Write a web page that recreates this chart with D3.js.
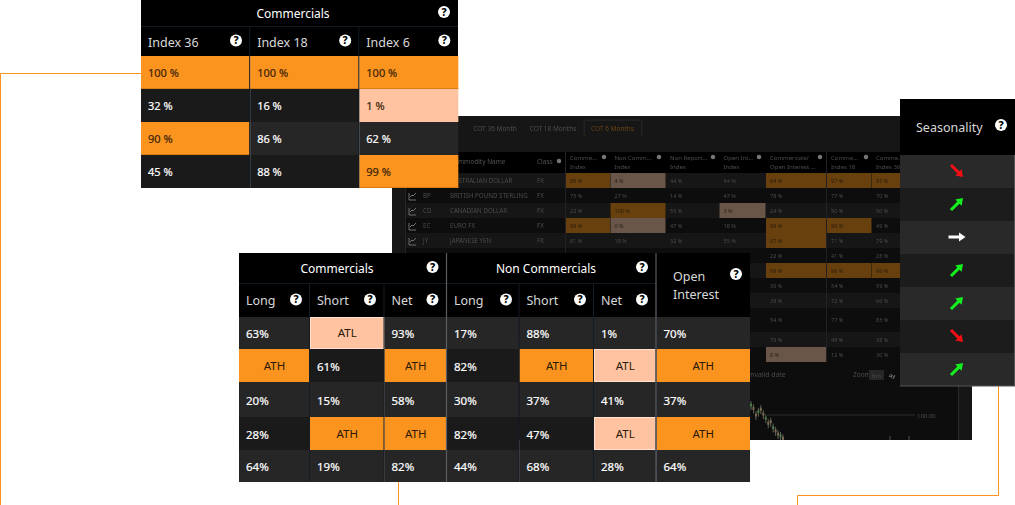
<!DOCTYPE html>
<html>
<head>
<meta charset="utf-8">
<script src="https://cdn.jsdelivr.net/npm/d3@7"></script>
<style>
html, body { margin: 0; padding: 0; background: #fff; }
svg { display: block; font-family: "Noto Sans", "Open Sans", sans-serif; }
.cell { stroke: currentColor; stroke-width: 0.2px; }
</style>
</head>
<body>
<svg id="chart" width="1015" height="505"></svg>
<script>
const ORANGE = "#fb931f", PEACH = "#ffc3a2";

// top left table
const indexHeaders = ["Index 36", "Index 18", "Index 6"];
const index36 = [100, 32, 90, 45];
const index18 = [100, 16, 86, 88];
const index6 = [100, 1, 62, 99];

// front table
const cotGroups = ["Commercials", "Non Commercials"];
const cotHeaders = ["Long", "Short", "Net", "Long", "Short", "Net", "Open Interest"];
const commLong = ["63%", "ATH", "20%", "28%", "64%"];
const commShort = ["ATL", "61%", "15%", "ATH", "19%"];
const commNet = ["93%", "ATH", "58%", "ATH", "82%"];
const nonLong = ["17%", "82%", "30%", "82%", "44%"];
const nonShort = ["88%", "ATH", "37%", "47%", "68%"];
const nonNet = ["1%", "ATL", "41%", "ATL", "28%"];
const openInterest = ["70%", "ATH", "37%", "ATH", "64%"];

// seasonality: -1 down, 0 flat, 1 up
const seasonality = [-1, 1, 0, 1, 1, -1, 1];

// back screenshot table
const backTabs = ["COT 36 Month", "COT 18 Months", "COT 6 Months"];
const backHeaders = [["Comme...", "Index"], ["Non Comm...", "Index"], ["Non Report...", "Index"], ["Open Int...", "Index"], ["Commercials/", "Open Interest ..."], ["Comme...", "Index 18"], ["Comme...", "Index 36"]];
const backCodes = ["", "BP", "CD", "EC", "JY"];
const backNames = ["AUSTRALIAN DOLLAR", "BRITISH POUND STERLING", "CANADIAN DOLLAR", "EURO FX", "JAPANESE YEN"];
const backColumns = [
  [95, 75, 22, 99, 81],
  [4, 27, 100, 0, 18],
  [44, 14, 55, 47, 32],
  [64, 47, 3, 18, 55],
  [94, 78, 24, 99, 97, 22, 99, 36, 39, 54, 79, 8],
  [97, 77, 50, 99, 71, 41, 96, 54, 72, 77, 49, 12],
  [97, 70, 50, 49, 79, 28, 96, 59, 66, 83, 38, 30]
];
// candle closes of the small chart behind everything
const candleCloses = [112, 108, 100, 104, 107, 101, 96, 90, 92, 85, 81, 77, 75, 72];

const svg = d3.select("#chart");

svg.append("defs").append("filter").attr("id", "soft")
  .append("feGaussianBlur").attr("stdDeviation", 0.5);

// orange connector lines
const connector = d3.line();
const connectors = [
  [[0.5, 505], [0.5, 73.5], [145, 73.5]],
  [[398.5, 505], [398.5, 480]],
  [[797.5, 505], [797.5, 495.5], [998.5, 495.5], [998.5, 380]]
];
svg.selectAll("path.connector").data(connectors).join("path")
  .attr("class", "connector")
  .attr("d", connector)
  .attr("fill", "none")
  .attr("stroke", ORANGE)
  .attr("stroke-width", 1);

function help(g, x, y, r) {
  g.append("circle").attr("cx", x).attr("cy", y).attr("r", r).attr("fill", "#fff");
  g.append("text").attr("x", x).attr("y", y + r * 0.62)
    .attr("text-anchor", "middle").attr("font-size", r * 1.75).attr("font-weight", 800)
    .attr("fill", "#000").text("?");
}

// ---- back screenshot
function drawBack() {
  const g = svg.append("g").attr("filter", "url(#soft)");
  g.append("rect").attr("x", 392).attr("y", 116).attr("width", 580).attr("height", 324).attr("fill", "#141414");
  g.append("rect").attr("x", 406).attr("y", 173).attr("width", 552).attr("height", 267).attr("fill", "#0a0a0a");
  g.append("rect").attr("x", 392).attr("y", 137).attr("width", 580).attr("height", 15).attr("fill", "#191919");
  g.append("rect").attr("x", 406).attr("y", 152).attr("width", 494).attr("height", 21).attr("fill", "#030303");
  g.append("line").attr("x1", 405.5).attr("x2", 405.5).attr("y1", 152).attr("y2", 440).attr("stroke", "#262626");

  // tabs
  g.append("path").attr("d", "M584 137V122q0-2 2-2H640q2 0 2 2V137").attr("fill", "#161616").attr("stroke", "#2a2a2a");
  const tabX = d3.scaleOrdinal().domain(backTabs).range([495, 553, 612.5]);
  g.selectAll("text.tab").data(backTabs).join("text").attr("class", "tab")
    .attr("x", d => tabX(d)).attr("y", 131).attr("text-anchor", "middle").attr("font-size", 6.5)
    .attr("fill", (d, i) => i === 2 ? "#6b4415" : "#505050").text(d => d);

  const rowEdge = d3.scaleLinear().domain(d3.range(13))
    .range([173, 188, 203, 218, 233, 248, 263, 278, 293, 308, 332, 347, 362]);
  const colEdges = [566, 610.5, 666, 719.5, 766, 827, 872, 918];
  const helpX = [604, 659, 713, 759, 820, 866];
  g.selectAll("rect.bandrow").data(d3.range(12).filter(i => i % 2 === 0)).join("rect").attr("class", "bandrow")
    .attr("x", 406).attr("y", d => rowEdge(d)).attr("width", 494).attr("height", d => rowEdge(d + 1) - rowEdge(d)).attr("fill", "#121212");

  // headers
  g.append("text").attr("x", 450).attr("y", 164).attr("font-size", 6.5).attr("fill", "#505050").text("Commodity Name");
  g.append("text").attr("x", 537).attr("y", 164).attr("font-size", 6.5).attr("fill", "#505050").text("Class");
  g.append("circle").attr("cx", 559).attr("cy", 161).attr("r", 2.2).attr("fill", "#777");
  backHeaders.forEach((h, i) => {
    h.forEach((t, j) => g.append("text").attr("x", colEdges[i] + 4).attr("y", 160 + j * 8.5)
      .attr("font-size", 6).attr("fill", "#4c4c4c").text(t));
    if (helpX[i]) g.append("circle").attr("cx", helpX[i]).attr("cy", 157).attr("r", 2.2).attr("fill", "#777");
  });

  // rows with names
  backNames.forEach((name, i) => {
    const y = (rowEdge(i) + rowEdge(i + 1)) / 2 + 2.5;
    g.append("text").attr("x", 450).attr("y", y).attr("font-size", 6.2).attr("fill", "#505050").text(name);
    g.append("text").attr("x", 537).attr("y", y).attr("font-size", 6.2).attr("fill", "#505050").text("FX");
    g.append("text").attr("x", 423).attr("y", y).attr("font-size", 6.2).attr("fill", "#505050").text(backCodes[i]);
    if (i > 0) g.append("path").attr("d", `M409 ${y + 2}h7M409 ${y + 2}v-7M410 ${y - 1}l2 -2l1 1l3 -3`).attr("fill", "none").attr("stroke", "#8a8a8a").attr("stroke-width", 0.8);
  });

  // value cells
  backColumns.forEach((col, c) => {
    const x0 = colEdges[c], w = colEdges[c + 1] - x0;
    col.forEach((v, r) => {
      const y = rowEdge(r), h = rowEdge(r + 1) - y, hi = v >= 90, lo = v <= 8;
      if (hi || lo) g.append("rect").attr("x", x0).attr("y", y).attr("width", w - 0.5).attr("height", h)
        .attr("fill", hi ? "#67400f" : "#6a5648");
      g.append("text").attr("x", x0 + 4).attr("y", y + h / 2 + 2.3).attr("font-size", 5.5)
        .attr("fill", hi ? "#2d1c06" : lo ? "#25201c" : "#505050").text(v + " %");
    });
  });
  [566, 827].forEach(e => g.append("line").attr("x1", e - 0.5).attr("x2", e - 0.5).attr("y1", 152).attr("y2", 362).attr("stroke", "#222"));

  // zoom bar + mini chart
  g.append("text").attr("x", 748).attr("y", 377).attr("font-size", 6.8).attr("fill", "#4f4f4f").text("Invalid date");
  g.append("text").attr("x", 853).attr("y", 377).attr("font-size", 6.5).attr("fill", "#4f4f4f").text("Zoom");
  g.append("rect").attr("x", 869).attr("y", 370).attr("width", 15).attr("height", 10).attr("fill", "#252525");
  g.append("text").attr("x", 876.5).attr("y", 377.5).attr("text-anchor", "middle").attr("font-size", 6).attr("fill", "#4f4f4f").text("6m");
  g.append("text").attr("x", 892).attr("y", 377.5).attr("text-anchor", "middle").attr("font-size", 6).attr("fill", "#999").text("4y");
  const yChart = d3.scaleLinear().domain([70, 100]).range([440, 415]);
  const xChart = d3.scaleLinear().domain([0, candleCloses.length - 1]).range([751, 783]);
  g.append("line").attr("x1", 767).attr("x2", 915).attr("y1", yChart(100)).attr("y2", yChart(100)).attr("stroke", "#2c2c2c");
  g.append("text").attr("x", 917).attr("y", yChart(100) + 2.5).attr("font-size", 6).attr("fill", "#555").text("100.00");
  g.append("line").attr("x1", 958.5).attr("x2", 958.5).attr("y1", 380).attr("y2", 440).attr("stroke", "#2c2c2c");
  g.selectAll("line.wick").data(candleCloses).join("line").attr("class", "wick")
    .attr("x1", (d, i) => xChart(i)).attr("x2", (d, i) => xChart(i))
    .attr("y1", d => yChart(d) - 4).attr("y2", d => Math.min(yChart(d) + 5, 440))
    .attr("stroke", "#8a8a78").attr("stroke-width", 0.7);
  g.selectAll("rect.candle").data(candleCloses).join("rect").attr("class", "candle")
    .attr("x", (d, i) => xChart(i) - 1).attr("width", 2)
    .attr("y", d => yChart(d) - 1.5).attr("height", 3)
    .attr("fill", (d, i) => i % 3 === 0 ? "#4b7a4a" : "#7a6a55");
  [890, 909].forEach(x => g.append("line").attr("x1", x).attr("x2", x).attr("y1", 436).attr("y2", 440).attr("stroke", "#777").attr("stroke-width", 0.7));
}

// ---- top left table
function drawIndexTable() {
  const g = svg.append("g");
  const x = d3.scaleBand().domain(indexHeaders).range([141, 468.5]);
  const ox = 141, w = 109;
  const helpOffset = [95, 95, 85];
  g.append("rect").attr("x", ox).attr("y", 0).attr("width", 317).attr("height", 56).attr("fill", "#000");
  g.append("line").attr("x1", ox).attr("x2", 458).attr("y1", 26.5).attr("y2", 26.5).attr("stroke", "#101820");
  g.append("text").attr("x", 293).attr("y", 18).attr("text-anchor", "middle").attr("fill", "#fff").attr("font-size", 12).text("Commercials");
  help(g, 444, 12, 6);
  const y = d3.scaleBand().domain(d3.range(4)).range([56, 188]);
  const cols = [index36, index18, index6];
  indexHeaders.forEach((h, c) => {
    const cx = x(h);
    g.append("text").attr("x", cx + 7).attr("y", 47).attr("fill", "#d8d8d8").attr("font-size", 12.5).text(h);
    help(g, cx + helpOffset[c], 40.5, 6);
    cols[c].forEach((v, r) => {
      const hi = v >= 90, lo = v <= 5;
      const cw = c === 2 ? 99 : w;
      g.append("rect").attr("x", cx).attr("y", y(r)).attr("width", cw).attr("height", y.bandwidth())
        .attr("fill", hi ? ORANGE : lo ? PEACH : (r === 2 && c > 0 ? "#262626" : "#1a1a1a"));
      if (hi) g.append("line").attr("x1", cx).attr("x2", cx + cw).attr("y1", y(r) + y.bandwidth() - 0.5).attr("y2", y(r) + y.bandwidth() - 0.5).attr("stroke", "#d67d14");
      g.append("text").attr("class", "cell").attr("x", cx + 7).attr("y", y(r) + 21).attr("font-size", 11)
        .attr("fill", hi || lo ? "#3a2308" : "#fff").style("color", hi || lo ? "#3a2308" : "#fff").text(v + " %");
    });
    if (c > 0) g.append("line").attr("x1", cx - 0.5).attr("x2", cx - 0.5).attr("y1", 27).attr("y2", 188).attr("stroke", "#141c24");
  });
}

// ---- front table
function drawCotTable() {
  const g = svg.append("g");
  const edges = [239, 310, 384.5, 447, 519.5, 594, 656.5, 750];
  const helpOffset = [57, 60, 48, 59, 60.5, 48];
  const cols = [commLong, commShort, commNet, nonLong, nonShort, nonNet, openInterest];
  const y = d3.scaleLinear().domain(d3.range(6)).range([317, 349, 382, 417, 450, 482]);
  g.append("rect").attr("x", 239).attr("y", 253).attr("width", 511).attr("height", 64).attr("fill", "#000");
  g.append("line").attr("x1", 239).attr("x2", 656).attr("y1", 283.5).attr("y2", 283.5).attr("stroke", "#101820");
  g.append("text").attr("x", 337).attr("y", 273).attr("text-anchor", "middle").attr("fill", "#fff").attr("font-size", 12).text(cotGroups[0]);
  g.append("text").attr("x", 546).attr("y", 273).attr("text-anchor", "middle").attr("fill", "#fff").attr("font-size", 12).text(cotGroups[1]);
  help(g, 432.5, 267, 6);
  help(g, 642, 267, 6);
  g.append("text").attr("x", 673).attr("y", 281).attr("fill", "#d8d8d8").attr("font-size", 12.5).text("Open");
  g.append("text").attr("x", 673).attr("y", 299).attr("fill", "#d8d8d8").attr("font-size", 12.5).text("Interest");
  help(g, 736, 274, 6);
  cols.forEach((col, c) => {
    const x0 = edges[c], w = edges[c + 1] - x0;
    if (c < 6) {
      g.append("text").attr("x", x0 + 7).attr("y", 305).attr("fill", "#d8d8d8").attr("font-size", 12.5).text(cotHeaders[c]);
      help(g, x0 + helpOffset[c], 299.5, 6);
    }
    col.forEach((v, r) => {
      const hi = v === "ATH", lo = v === "ATL";
      const top = y(r), h = y(r + 1) - top;
      g.append("rect").attr("x", x0).attr("y", top).attr("width", w).attr("height", h)
        .attr("fill", hi ? ORANGE : lo ? PEACH : (r % 2 === 0 ? "#262626" : "#1a1a1a"));
      if (lo) g.append("rect").attr("x", x0 + 0.5).attr("y", top + 0.5).attr("width", w - 1).attr("height", h - 1)
        .attr("fill", "none").attr("stroke", "#ffe0cf");
      g.append("text").attr("class", hi || lo ? null : "cell").attr("x", hi || lo ? x0 + w / 2 : x0 + 7).attr("y", top + h / 2 + (hi || lo ? 4 : 5.2)).attr("font-size", 11.5)
        .attr("text-anchor", hi || lo ? "middle" : "start")
        .attr("fill", hi || lo ? "#2a1a06" : "#fff").style("color", "#fff").text(v);
    });
    if (c > 0) g.append("line").attr("x1", x0 - 0.5).attr("x2", x0 - 0.5).attr("y1", 284).attr("y2", 482).attr("stroke", "#141c24");
  });
  [447, 656.5].forEach(e => g.append("line").attr("x1", e - 0.5).attr("x2", e - 0.5).attr("y1", 253).attr("y2", 482).attr("stroke", "#5a5d63").attr("stroke-width", 1.2));
}

// ---- seasonality column
function drawSeasonality() {
  const g = svg.append("g");
  g.append("rect").attr("x", 900).attr("y", 99).attr("width", 115).attr("height", 56).attr("fill", "#000");
  g.append("text").attr("x", 916).attr("y", 132).attr("fill", "#d8d8d8").attr("font-size", 12.5).text("Seasonality");
  help(g, 1001, 125, 6);
  const y = d3.scaleBand().domain(d3.range(seasonality.length)).range([155, 386]);
  const colour = d3.scaleOrdinal().domain([-1, 0, 1]).range(["#f00f14", "#ffffff", "#14f01e"]);
  const angle = d3.scaleOrdinal().domain([-1, 0, 1]).range([45, 0, -45]);
  g.selectAll("rect.row").data(seasonality).join("rect").attr("class", "row")
    .attr("x", 900).attr("y", (d, i) => y(i)).attr("width", 115).attr("height", y.bandwidth())
    .attr("fill", (d, i) => i % 2 === 0 ? "#292929" : "#1c1c1c");
  g.selectAll("path.arrow").data(seasonality).join("path").attr("class", "arrow")
    .attr("d", "M-8.5 -1.5H2V-4.5L8.5 0L2 4.5V1.5H-8.5Z")
    .attr("transform", (d, i) => `translate(957,${y(i) + y.bandwidth() / 2 - 0.5}) rotate(${angle(d)})`)
    .attr("fill", d => colour(d));
  g.append("line").attr("x1", 1014.5).attr("x2", 1014.5).attr("y1", 155).attr("y2", 386).attr("stroke", "#555");
  g.append("line").attr("x1", 900).attr("x2", 1015).attr("y1", 386).attr("y2", 386).attr("stroke", "#555");
}

drawBack();
drawIndexTable();
drawCotTable();
drawSeasonality();
</script>
</body>
</html>
